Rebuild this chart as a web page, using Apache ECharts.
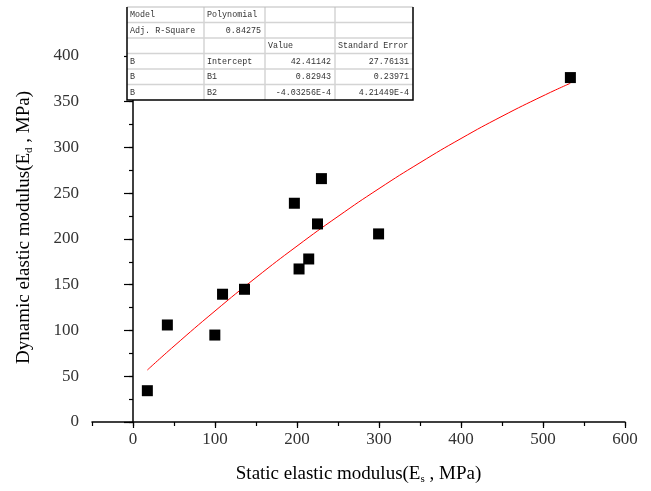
<!DOCTYPE html>
<html><head><meta charset="utf-8">
<script src="https://cdn.jsdelivr.net/npm/echarts@6/dist/echarts.min.js"></script>
<style>html,body{margin:0;padding:0;background:#fff}#c{width:651px;height:491px}</style>
</head><body><div id="c"></div>
<script>
// Measured points (Es, Ed)
const staticModulus = [17.5, 41.9, 99.8, 109.2, 136, 196.8, 202.5, 214.3, 225, 229.8, 299.5, 533.4];
const dynamicModulus = [34.2, 106, 95, 139.6, 145, 239, 167.2, 178.1, 216.4, 265.9, 205.5, 376.3];
// Fitted curve
const fitX = [17.5, 50, 100, 150, 200, 250, 300, 350, 400, 450, 500, 533.4];
const fitY = [56.8, 82.9, 121.3, 157.8, 192.2, 224.6, 255.0, 283.3, 309.7, 334.0, 356.3, 370.1];
const xMajorTicks = [0, 100, 200, 300, 400, 500, 600];
const yMajorTicks = [0, 50, 100, 150, 200, 250, 300, 350, 400];
const tableRows = [
  ["Model", "Polynomial", "", ""],
  ["Adj. R-Square", "0.84275", "", ""],
  ["", "", "Value", "Standard Error"],
  ["B", "Intercept", "42.41142", "27.76131"],
  ["B", "B1", "0.82943", "0.23971"],
  ["B", "B2", "-4.03256E-4", "4.21449E-4"]
];
const tableAlignRight = [
  [false, false, false, false],
  [false, true, false, false],
  [false, false, false, false],
  [false, false, true, true],
  [false, false, true, true],
  [false, false, true, true]
];

const chart = echarts.init(document.getElementById('c'), null, {renderer: 'canvas'});
const serif = '"Liberation Serif", "Times New Roman", serif';

// table graphics
const colX = [127, 204, 265, 335, 413];
const rowTop = 7, rowH = 15.5;
const tH = rowH * tableRows.length;
const g = [];
g.push({type: 'rect', shape: {x: colX[0], y: rowTop, width: colX[4] - colX[0], height: tH}, style: {fill: '#fff', stroke: null}, z: 10});
for (let r = 1; r < tableRows.length; r++) {
  g.push({type: 'line', shape: {x1: colX[0], y1: rowTop + r * rowH, x2: colX[4], y2: rowTop + r * rowH}, style: {stroke: '#d4d4d4', lineWidth: 1.5}, z: 11});
}
for (let c = 1; c < 4; c++) {
  g.push({type: 'line', shape: {x1: colX[c], y1: rowTop, x2: colX[c], y2: rowTop + tH}, style: {stroke: '#d4d4d4', lineWidth: 1.5}, z: 11});
}
g.push({type: 'line', shape: {x1: colX[0], y1: rowTop, x2: colX[4], y2: rowTop}, style: {stroke: '#bbb', lineWidth: 1}, z: 12});
g.push({type: 'polyline', shape: {points: [[colX[0], rowTop], [colX[0], rowTop + tH], [colX[4], rowTop + tH], [colX[4], rowTop]]}, style: {stroke: '#000', lineWidth: 1.5, fill: null}, z: 12});
tableRows.forEach((row, r) => {
  row.forEach((txt, c) => {
    if (!txt) return;
    const right = tableAlignRight[r][c];
    g.push({type: 'text', z: 13, x: right ? colX[c + 1] - 4 : colX[c] + 3, y: rowTop + r * rowH + rowH / 2 + 0.5,
      style: {text: txt, fill: '#333', font: '8.4px "Liberation Mono", monospace', textAlign: right ? 'right' : 'left', textVerticalAlign: 'middle'}});
  });
});

const grid = {left: 92, right: 26, top: 33, bottom: 69};
chart.setOption({
  animation: false,
  backgroundColor: '#fff',
  grid: grid,
  xAxis: [{
    type: 'value', min: -50, max: 600, interval: 50,
    axisLine: {lineStyle: {color: '#000', width: 1.5}},
    axisTick: {length: 4, lineStyle: {color: '#000', width: 1.2}},
    splitLine: {show: false},
    axisLabel: {customValues: xMajorTicks, color: '#333', fontFamily: serif, fontSize: 17, margin: 9},
    name: '{a|Static elastic modulus(E}{s|s}{a| , MPa)}',
    nameLocation: 'middle', nameGap: 42,
    nameTextStyle: {rich: {a: {fontFamily: serif, fontSize: 19, color: '#000'}, s: {fontFamily: serif, fontSize: 11, color: '#000', padding: [10, 0, 0, 0]}}}
  }, {
    type: 'value', min: -50, max: 600, position: 'bottom', offset: 0,
    axisLine: {show: false},
    axisTick: {show: true, customValues: xMajorTicks, length: 6, lineStyle: {color: '#000', width: 1.2}},
    axisLabel: {show: false}, splitLine: {show: false}
  }],
  yAxis: [{
    type: 'value', min: 0, max: 425, interval: 25,
    axisLine: {show: true, lineStyle: {color: '#000', width: 1.5}},
    axisTick: {show: true, length: 4, lineStyle: {color: '#000', width: 1.2}},
    splitLine: {show: false},
    axisLabel: {customValues: yMajorTicks, color: '#333', fontFamily: serif, fontSize: 17, margin: 13},
    name: '{a|Dynamic elastic modulus(E}{s|d}{a| , MPa)}',
    nameLocation: 'middle', nameGap: 57,
    nameTextStyle: {rich: {a: {fontFamily: serif, fontSize: 19, color: '#000'}, s: {fontFamily: serif, fontSize: 11, color: '#000', padding: [10, 0, 0, 0]}}}
  }, {
    type: 'value', min: 0, max: 425, position: 'left', offset: 0,
    axisLine: {show: false},
    axisTick: {show: true, customValues: yMajorTicks, length: 9, lineStyle: {color: '#000', width: 1.2}},
    axisLabel: {show: false}, splitLine: {show: false}
  }],
  series: [{
    type: 'line', data: fitX.map((x, i) => [x, fitY[i]]), smooth: true, showSymbol: false, symbol: 'none',
    lineStyle: {color: '#ff0000', width: 1}, z: 2
  }, {
    type: 'scatter', data: staticModulus.map((x, i) => [x, dynamicModulus[i]]), symbol: 'rect', symbolSize: 11,
    itemStyle: {color: '#000', opacity: 1}, z: 3
  }],
  graphic: g
});
</script></body></html>
